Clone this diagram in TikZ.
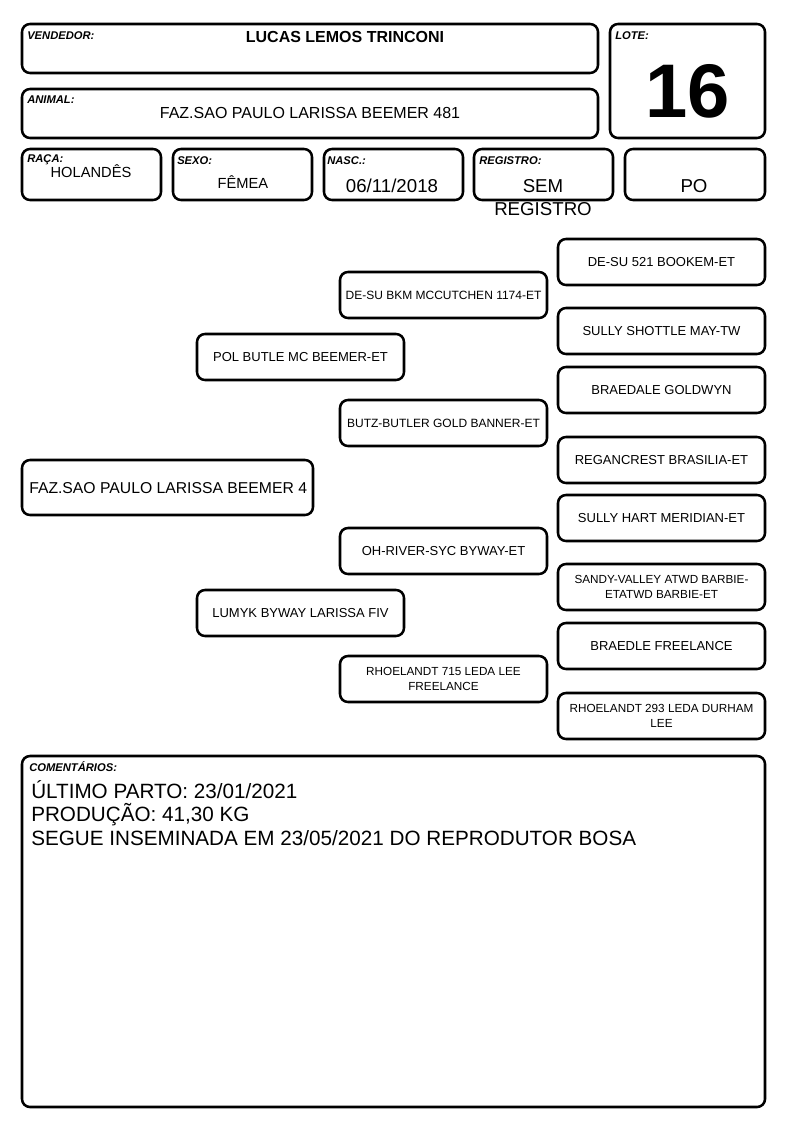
\documentclass[tikz,border=0pt]{standalone}
\usepackage{fontspec}
\setmainfont{Liberation Sans}
\begin{document}
\begin{tikzpicture}[x=0.75pt,y=-0.75pt,
  box/.style={draw, line width=1.9pt, rounded corners=6pt, inner sep=0pt, align=center},
  lab/.style={font=\fontsize{8.4}{9}\selectfont\bfseries\itshape, anchor=base west, inner sep=0pt},
  val/.style={anchor=base, inner sep=0pt},
  pa/.style={font=\fontsize{9.75}{11.5}\selectfont},
  pb/.style={font=\fontsize{9}{11.5}\selectfont},
  pc/.style={font=\fontsize{8.8}{11.4}\selectfont},
  cmt/.style={anchor=base west, inner sep=0pt, font=\fontsize{15.5}{17.6}\selectfont}]
\newcommand\mybox[7][]{\node[box,#1,minimum width={(#5-#3-2)*0.75pt},minimum height={(#6-#4-2)*0.75pt}] (#2) at ({(#3+#5)/2},{(#4+#6)/2}) {#7};}
\useasboundingbox (0,0) rectangle (794,1123);
% header
\mybox{vend}{21}{23}{599}{74}{}
\mybox{lote}{609}{23}{766}{139}{}
\mybox{anim}{21}{88}{599}{139}{}
\mybox{raca}{21}{148}{162}{201}{}
\mybox{sexo}{172}{148}{313}{201}{}
\mybox{nasc}{323}{148}{464}{201}{}
\mybox{regi}{473}{148}{614}{201}{}
\mybox{po}{624}{148}{766}{201}{}
\node[lab] (lvend) at (27,39.5) {VENDEDOR:};
\node[val, font=\fontsize{12}{14}\selectfont\bfseries] (tvend) at (345,43) {LUCAS LEMOS TRINCONI};
\node[lab] (llote) at (615,39.5) {LOTE:};
\node[val, font=\fontsize{57}{60}\selectfont\bfseries] (tlote) at (688,118) {16};
\node[lab] (lanim) at (27,104) {ANIMAL:};
\node[val, font=\fontsize{12}{14}\selectfont] (tanim) at (310,119) {FAZ.SAO PAULO LARISSA BEEMER 481};
\node[lab] (lraca) at (27,162.5) {RAÇA:};
\node[val, font=\fontsize{11}{13}\selectfont] (traca) at (91,177.5) {HOLANDÊS};
\node[lab] (lsexo) at (177,165) {SEXO:};
\node[val, font=\fontsize{11}{13}\selectfont] (tsexo) at (243,188.5) {FÊMEA};
\node[lab] (lnasc) at (327,165) {NASC.:};
\node[val, font=\fontsize{14}{16}\selectfont] (tnasc) at (392,193) {06/11/2018};
\node[lab] (lregi) at (479,165) {REGISTRO:};
\node[val, font=\fontsize{14}{16}\selectfont] (tregi) at (543,193) {SEM};
\node[val, font=\fontsize{14}{16}\selectfont] (tregib) at (543,215) {REGISTRO};
\node[val, font=\fontsize{14}{16}\selectfont] (tpo) at (694,193) {PO};
% pedigree
\mybox{main}{21}{459}{314}{516}{}
\node[anchor=west, inner sep=0pt, font=\fontsize{11.8}{14}\selectfont] (tmain) at (29,488) {FAZ.SAO PAULO LARISSA BEEMER 4};
\mybox[pa]{p}{196}{333}{405}{381}{POL BUTLE MC BEEMER-ET}
\mybox[pa]{m}{196}{589}{405}{637}{LUMYK BYWAY LARISSA FIV}
\mybox[pb]{pp}{339}{271}{548}{319}{DE-SU BKM MCCUTCHEN 1174-ET}
\mybox[pb]{pm}{339}{399}{548}{447}{BUTZ-BUTLER GOLD BANNER-ET}
\mybox[pa]{mp}{339}{527}{548}{575}{OH-RIVER-SYC BYWAY-ET}
\mybox[pc]{mm}{339}{655}{548}{703}{RHOELANDT 715 LEDA LEE\\FREELANCE}
\mybox[pa]{ppp}{557}{238}{766}{286}{DE-SU 521 BOOKEM-ET}
\mybox[pa]{ppm}{557}{307}{766}{355}{SULLY SHOTTLE MAY-TW}
\mybox[pa]{pmp}{557}{366}{766}{414}{BRAEDALE GOLDWYN}
\mybox[pa]{pmm}{557}{436}{766}{484}{REGANCREST BRASILIA-ET}
\mybox[pa]{mpp}{557}{494}{766}{542}{SULLY HART MERIDIAN-ET}
\mybox[pc]{mpm}{557}{563}{766}{611}{SANDY-VALLEY ATWD BARBIE-\\ETATWD BARBIE-ET}
\mybox[pa]{mmp}{557}{622}{766}{670}{BRAEDLE FREELANCE}
\mybox[pc]{mmm}{557}{692}{766}{740}{RHOELANDT 293 LEDA DURHAM\\LEE}
% comments
\mybox{com}{21}{755}{766}{1108}{}
\node[lab] (lcom) at (29,771) {COMENTÁRIOS:};
\node[cmt] (c1) at (31,798) {ÚLTIMO PARTO: 23/01/2021};
\node[cmt] (c2) at (31,821) {PRODUÇÃO: 41,30 KG};
\node[cmt] (c3) at (31,845) {SEGUE INSEMINADA EM 23/05/2021 DO REPRODUTOR BOSA};
\end{tikzpicture}
\end{document}
